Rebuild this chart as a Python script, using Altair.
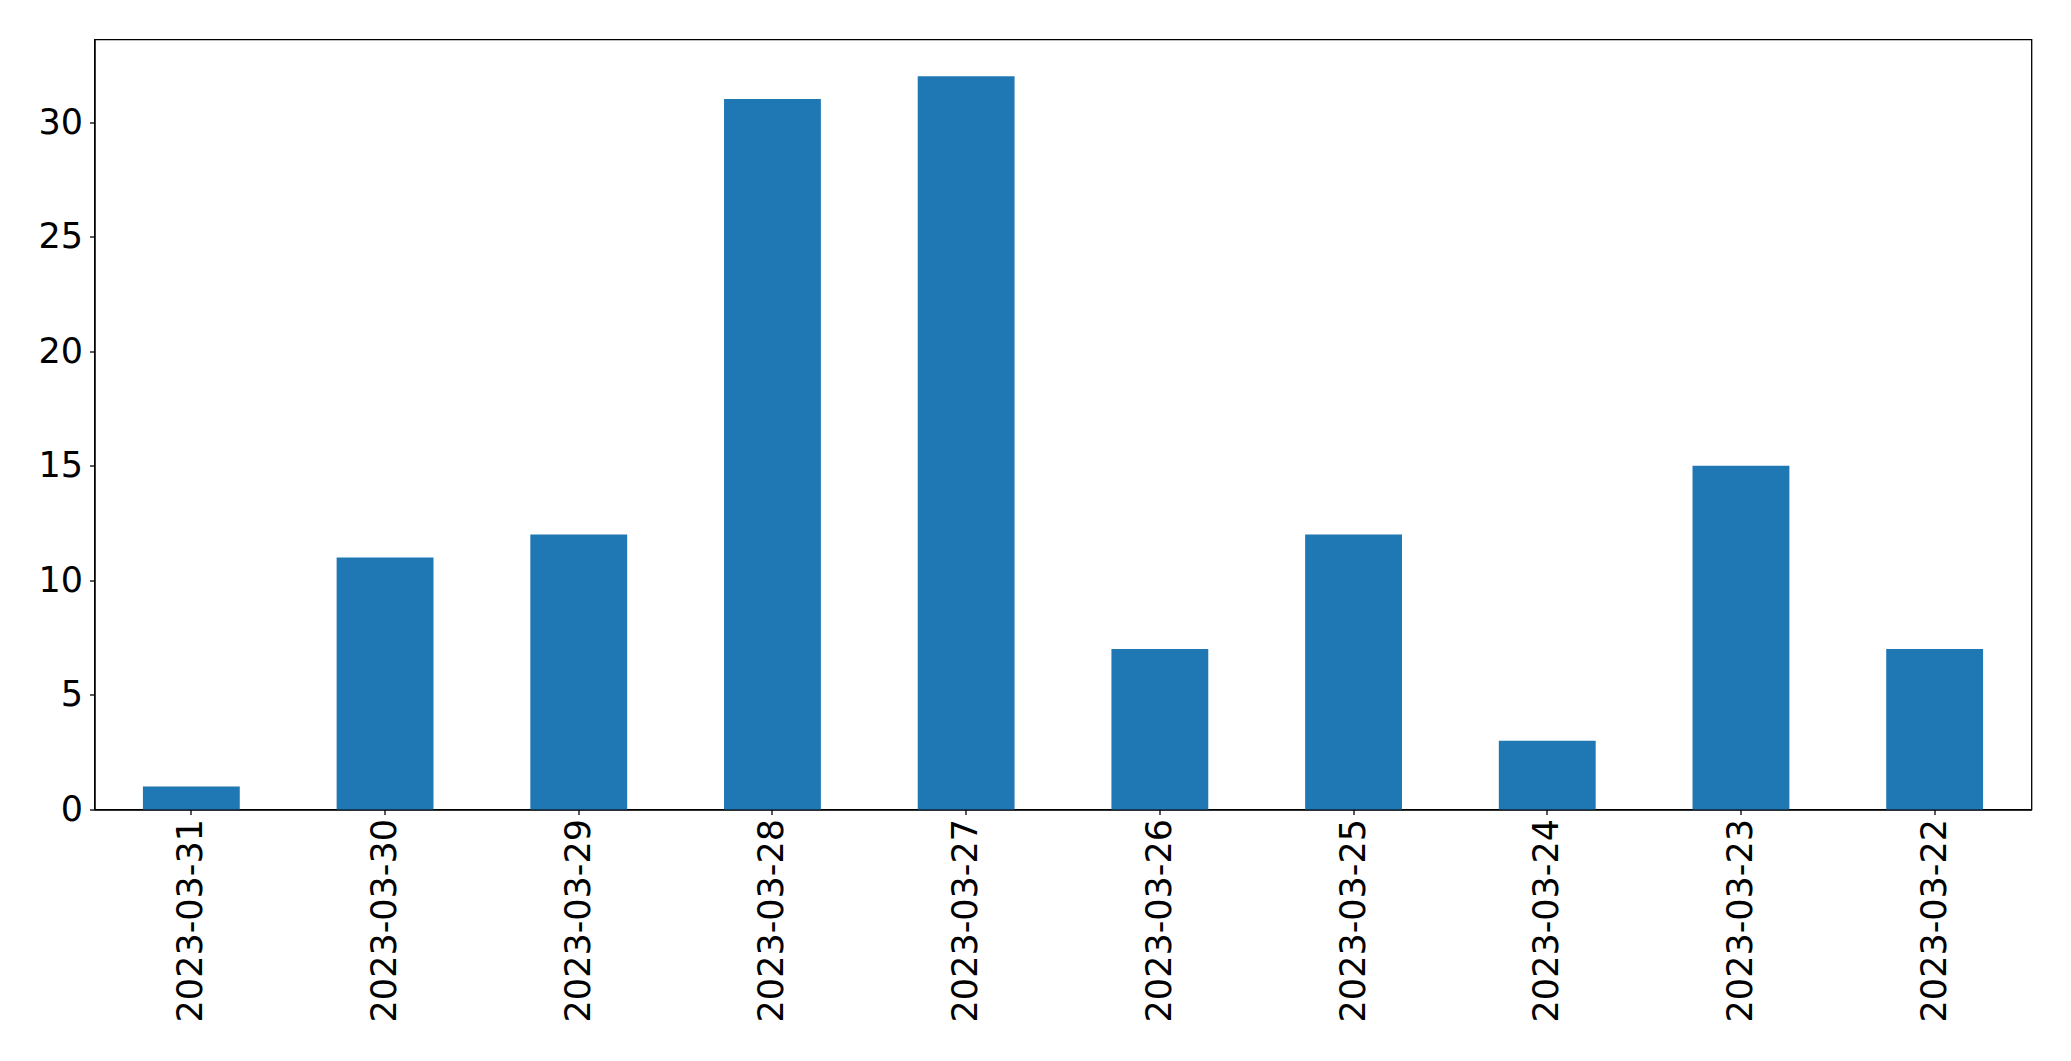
import altair as alt
import pandas as pd

dates = ["2023-03-31", "2023-03-30", "2023-03-29", "2023-03-28", "2023-03-27",
         "2023-03-26", "2023-03-25", "2023-03-24", "2023-03-23", "2023-03-22"]
counts = [1, 11, 12, 31, 32, 7, 12, 3, 15, 7]
y_ticks = [0, 5, 10, 15, 20, 25, 30]

df = pd.DataFrame({"date": dates, "count": counts})

chart = alt.Chart(df).mark_bar(color="#1f77b4").encode(
    x=alt.X("date:N", sort=None, title=None,
            scale=alt.Scale(paddingInner=0.5, paddingOuter=0.25),
            axis=alt.Axis(labelAngle=270, labelAlign="right", labelBaseline="middle",
                          labelFontSize=35, labelFont="DejaVu Sans", labelColor="black",
                          labelLimit=0, labelOverlap=False,
                          labelPadding=4, tickSize=5, tickColor="black", tickWidth=1.3,
                          domainColor="black", domainWidth=1.3, grid=False)),
    y=alt.Y("count:Q", title=None,
            scale=alt.Scale(domain=[0, 33.6], nice=False, zero=True),
            axis=alt.Axis(values=y_ticks, labelFontSize=35, labelFont="DejaVu Sans",
                          labelColor="black", labelPadding=7, tickSize=5,
                          tickColor="black", tickWidth=1.3, domainColor="black",
                          domainWidth=1.3, grid=False)),
).properties(
    width=1937, height=770,
    background="white",
    autosize=alt.AutoSizeParams(type="none"),
    padding={"left": 86.5, "top": 31.5, "right": 30, "bottom": 225},
).configure_view(
    stroke="black", strokeWidth=1.3, fill="white"
)

chart.save("out.html", embed_options={"renderer": "svg", "actions": False})
